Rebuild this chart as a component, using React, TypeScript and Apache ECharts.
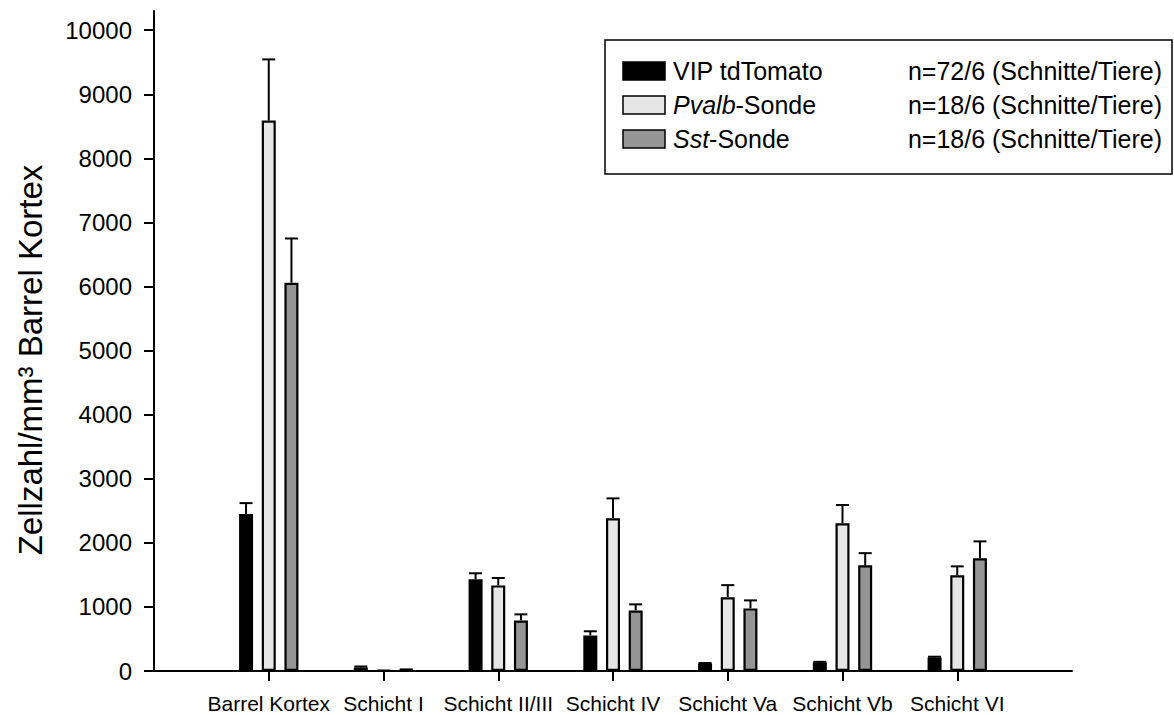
import React, { useEffect, useRef } from "react";
import * as echarts from "echarts";

const categories = ["", "Barrel Kortex", "Schicht I", "Schicht II/III", "Schicht IV", "Schicht Va", "Schicht Vb", "Schicht VI", ""];
const vipMean = [null, 2450, 55, 1430, 555, 117, 133, 211, null];
const vipErr = [null, 170, 15, 95, 65, 8, 10, 12, null];
const pvalbMean = [null, 8590, 5, 1336, 2384, 1150, 2305, 1493, null];
const pvalbErr = [null, 955, 0, 115, 310, 190, 285, 140, null];
const sstMean = [null, 6060, 20, 789, 945, 977, 1649, 1758, null];
const sstErr = [null, 690, 5, 95, 95, 125, 190, 265, null];
const yTicks = [0, 1000, 2000, 3000, 4000, 5000, 6000, 7000, 8000, 9000, 10000];
const seriesNames = ["VIP tdTomato", "Pvalb-Sonde", "Sst-Sonde"];
const nLabels = ["n=72/6 (Schnitte/Tiere)", "n=18/6 (Schnitte/Tiere)", "n=18/6 (Schnitte/Tiere)"];
const colors = ["#000000", "#e6e6e6", "#959595"];

const FONT = "'Liberation Sans', Arial, sans-serif";

export default function App() {
  const ref = useRef<HTMLDivElement>(null);
  useEffect(() => {
    if (!ref.current) return;
    const chart = echarts.init(ref.current, undefined, { renderer: "svg" });
    const means = [vipMean, pvalbMean, sstMean];
    const errs = [vipErr, pvalbErr, sstErr];
    const spacing = 22.7;
    const barSeries = means.map((m, i) => ({
      type: "bar",
      name: seriesNames[i],
      data: m,
      barWidth: 14,
      barGap: "62%",
      itemStyle: { color: colors[i], borderColor: "#000", borderWidth: 2.2 },
      z: 3,
    }));
    const errSeries = means.map((m, i) => ({
      type: "custom",
      name: seriesNames[i] + " err",
      data: m
        .map((v, k) => (v === null ? null : [k, v, errs[i][k]]))
        .filter((d) => d !== null),
      z: 2,
      renderItem: (params: any, api: any) => {
        const k = api.value(0);
        const v = api.value(1);
        const e = api.value(2);
        const base = api.coord([k, v]);
        const top = api.coord([k, v + e]);
        const x = base[0] + (i - 1) * spacing;
        const style = { stroke: "#000", lineWidth: 2 };
        return {
          type: "group",
          children: [
            { type: "line", shape: { x1: x, y1: base[1], x2: x, y2: top[1] }, style },
            { type: "line", shape: { x1: x - 6.5, y1: top[1], x2: x + 6.5, y2: top[1] }, style },
          ],
        };
      },
    }));

    const legendRows = [71, 105, 139];
    const graphics: any[] = [
      {
        type: "rect",
        shape: { x: 605, y: 40, width: 567, height: 134 },
        style: { fill: "#fff", stroke: "#000", lineWidth: 1.5 },
        z: 10,
      },
      {
        type: "text",
        x: 30,
        y: 360,
        rotation: Math.PI / 2,
        style: {
          text: "Zellzahl/mm³ Barrel Kortex",
          font: `33px ${FONT}`,
          fill: "#000",
          align: "center",
          verticalAlign: "middle",
        },
        z: 10,
      },
    ];
    legendRows.forEach((y, i) => {
      graphics.push({
        type: "rect",
        shape: { x: 623, y: y - 9, width: 42, height: 18 },
        style: { fill: colors[i], stroke: "#000", lineWidth: 1.5 },
        z: 11,
      });
      const label =
        i === 0
          ? "VIP tdTomato"
          : i === 1
          ? "{it|Pvalb}-Sonde"
          : "{it|Sst}-Sonde";
      graphics.push({
        type: "text",
        x: 673,
        y,
        style: {
          text: label,
          font: `25px ${FONT}`,
          fill: "#000",
          verticalAlign: "middle",
          rich: { it: { fontStyle: "italic", fontSize: 25, fontFamily: FONT } },
        },
        z: 11,
      });
      graphics.push({
        type: "text",
        x: 1162,
        y,
        style: {
          text: nLabels[i],
          font: `25px ${FONT}`,
          fill: "#000",
          align: "right",
          verticalAlign: "middle",
        },
        z: 11,
      });
    });

    chart.setOption({
      animation: false,
      backgroundColor: "#fff",
      grid: { left: 154, right: 102, top: 11, bottom: 44, containLabel: false },
      xAxis: {
        type: "category",
        data: categories,
        boundaryGap: false,
        axisLine: { lineStyle: { color: "#000", width: 2 } },
        axisTick: {
          show: true,
          length: 10,
          interval: (index: number) => index > 0 && index < categories.length - 1,
          lineStyle: { color: "#000", width: 2 },
        },
        axisLabel: {
          interval: 0,
          color: "#000",
          fontFamily: FONT,
          fontSize: 21,
          margin: 22,
        },
        splitLine: { show: false },
      },
      yAxis: {
        type: "value",
        min: 0,
        max: 10300,
        axisLine: { show: true, lineStyle: { color: "#000", width: 2 } },
        axisTick: { show: true, length: 10, customValues: yTicks, lineStyle: { color: "#000", width: 2 } },
        axisLabel: {
          customValues: yTicks,
          formatter: (v: number) => String(v),
          color: "#000",
          fontFamily: FONT,
          fontSize: 24,
          margin: 22,
        },
        splitLine: { show: false },
      },
      series: [...barSeries, ...errSeries],
      graphic: graphics,
    } as any);
    return () => chart.dispose();
  }, []);
  return (
    <div
      ref={ref}
      style={{ position: "fixed", left: 0, top: 0, width: 1174, height: 715 }}
    />
  );
}
